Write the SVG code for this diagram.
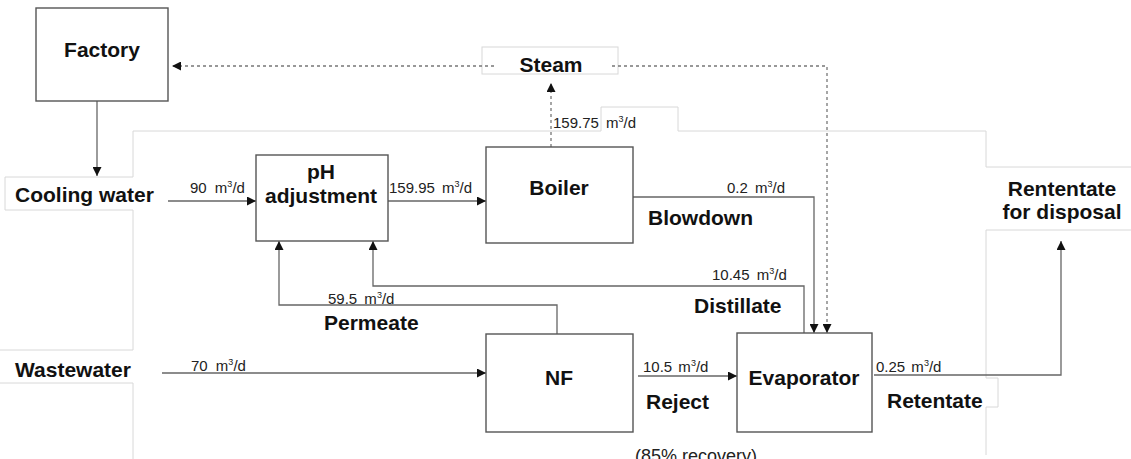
<svg xmlns="http://www.w3.org/2000/svg" width="1131" height="459" viewBox="0 0 1131 459">
<defs>
<style>
.frame{fill:none;stroke:#d8d8d8;stroke-width:1}
.box{fill:#fff;stroke:#555;stroke-width:1.4}
.lbox{fill:#fff;stroke:#d8d8d8;stroke-width:1}
.ln{fill:none;stroke:#666;stroke-width:1.3}
.dash{fill:none;stroke:#777;stroke-width:1.3;stroke-dasharray:3,3}
.b{font-family:"Liberation Sans",Arial,sans-serif;font-weight:bold;font-size:21px;fill:#111}
.s{font-family:"Liberation Sans",Arial,sans-serif;font-size:15px;fill:#222}
.c{text-anchor:middle}
</style>
<marker id="ah" viewBox="0 0 10 10" refX="10" refY="5" markerWidth="9" markerHeight="9" markerUnits="userSpaceOnUse" orient="auto">
<path d="M0,0 L10,5 L0,10 z" fill="#111"/>
</marker>
</defs>
<rect width="1131" height="459" fill="#fff"/>
<g id="frame">
<path class="frame" d="M133,131 L601,131 L601,107 L678,107 L678,131 L986,131 L986,167 L1131,167"/>
<path class="frame" d="M1131,230 L986,230 L986,378 L998,378 L998,407 L986,407 L986,455"/>
<path class="frame" d="M133,131 L133,177 L5,177 L5,210 L133,210 L133,350 L0,350"/>
<path class="frame" d="M0,383 L133,383 L133,459"/>
</g>
<g id="steam-label">
<rect class="lbox" x="482" y="47" width="136" height="27"/>
</g>
<g id="connectors">
<path class="ln" d="M97,101 L97,176" marker-end="url(#ah)"/>
<path class="ln" d="M168,201 L256,201" marker-end="url(#ah)"/>
<path class="ln" d="M388,201 L486,201" marker-end="url(#ah)"/>
<path class="dash" d="M551,147 L551,83" marker-end="url(#ah)"/>
<path class="dash" d="M494,66 L172,66" marker-end="url(#ah)"/>
<path class="dash" d="M612,66 L827,66 L827,333" marker-end="url(#ah)"/>
<path class="ln" d="M633,197 L814,197 L814,333" marker-end="url(#ah)"/>
<path class="ln" d="M804,333 L804,286 L373,286 L373,241" marker-end="url(#ah)"/>
<path class="ln" d="M557,334 L557,305 L279,305 L279,241" marker-end="url(#ah)"/>
<path class="ln" d="M162,373 L486,373" marker-end="url(#ah)"/>
<path class="ln" d="M638,376 L737,376" marker-end="url(#ah)"/>
<path class="ln" d="M874,375 L1061,375 L1061,241" marker-end="url(#ah)"/>
</g>
<g id="factory">
<rect class="box" x="36" y="8" width="132" height="93"/>
<text class="b c" x="102" y="57">Factory</text>
</g>
<g id="steam">
<text class="b c" x="551" y="72">Steam</text>
</g>
<g id="ph-adjustment">
<rect class="box" x="256" y="155" width="132" height="86"/>
<text class="b c" x="321" y="179">pH</text>
<text class="b c" x="321" y="203">adjustment</text>
</g>
<g id="boiler">
<rect class="box" x="486" y="147" width="147" height="96"/>
<text class="b c" x="559" y="195">Boiler</text>
</g>
<g id="nf">
<rect class="box" x="486" y="334" width="147" height="98"/>
<text class="b c" x="559" y="385">NF</text>
</g>
<g id="evaporator">
<rect class="box" x="737" y="333" width="135" height="99"/>
<text class="b c" x="804" y="385">Evaporator</text>
</g>
<g id="cooling-water">
<text class="b" x="15" y="202">Cooling water</text>
</g>
<g id="wastewater">
<text class="b" x="15" y="377">Wastewater</text>
</g>
<g id="rentetate-disposal">
<text class="b c" x="1062" y="196">Rententate</text>
<text class="b c" x="1062" y="219">for disposal</text>
</g>
<g id="labels">
<text class="b" x="648" y="225">Blowdown</text>
<text class="b" x="694" y="313">Distillate</text>
<text class="b" x="324" y="330">Permeate</text>
<text class="b" x="646" y="409">Reject</text>
<text class="b" x="887" y="408">Retentate</text>
<text class="s" x="635" y="462" style="font-size:18px">(85% recovery)</text>
<text class="s" x="190" y="193">90<tspan dx="4"> m</tspan><tspan dy="-6" font-size="9">3</tspan><tspan dy="6">/d</tspan></text>
<text class="s" x="389" y="193">159.95<tspan dx="3"> m</tspan><tspan dy="-6" font-size="9">3</tspan><tspan dy="6">/d</tspan></text>
<text class="s" x="553" y="128">159.75<tspan dx="3"> m</tspan><tspan dy="-6" font-size="9">3</tspan><tspan dy="6">/d</tspan></text>
<text class="s" x="727" y="193">0.2<tspan dx="3"> m</tspan><tspan dy="-6" font-size="9">3</tspan><tspan dy="6">/d</tspan></text>
<text class="s" x="712" y="280">10.45<tspan dx="3"> m</tspan><tspan dy="-6" font-size="9">3</tspan><tspan dy="6">/d</tspan></text>
<text class="s" x="328" y="304">59.5<tspan dx="3"> m</tspan><tspan dy="-6" font-size="9">3</tspan><tspan dy="6">/d</tspan></text>
<text class="s" x="191" y="371">70<tspan dx="4"> m</tspan><tspan dy="-6" font-size="9">3</tspan><tspan dy="6">/d</tspan></text>
<text class="s" x="643" y="372">10.5<tspan dx="2"> m</tspan><tspan dy="-6" font-size="9">3</tspan><tspan dy="6">/d</tspan></text>
<text class="s" x="876" y="372">0.25<tspan dx="2"> m</tspan><tspan dy="-6" font-size="9">3</tspan><tspan dy="6">/d</tspan></text>
</g>
</svg>
